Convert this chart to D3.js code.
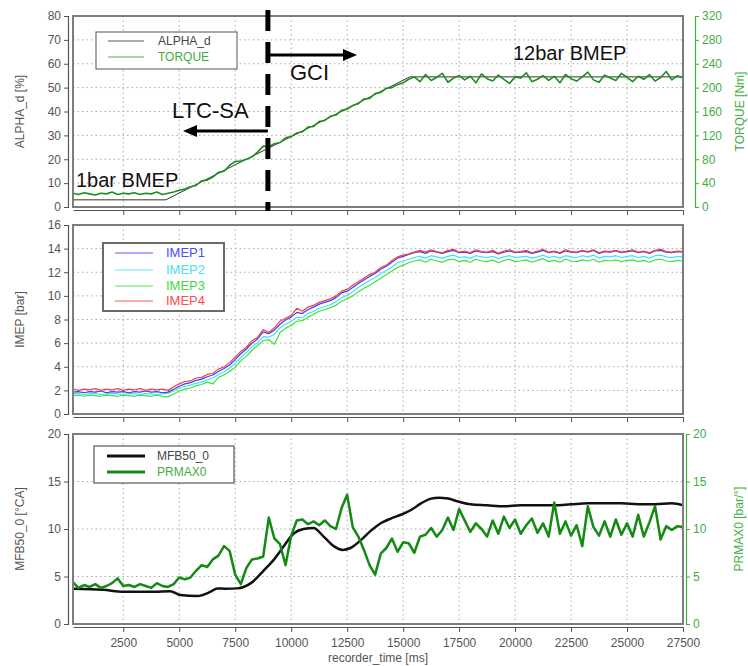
<!DOCTYPE html>
<html>
<head>
<meta charset="utf-8">
<script src="https://cdn.jsdelivr.net/npm/d3@7"></script>
<style>
body { margin: 0; background: #fff; }
svg { display: block; font-family: "Liberation Sans", Arial, sans-serif; }
</style>
</head>
<body>
<div id="chart"></div>
<script>
// ---- data ----
var timeStart = 255, timeEnd = 27500;
var timeTicks = [2500, 5000, 7500, 10000, 12500, 15000, 17500, 20000, 22500, 25000, 27500];
var alphaTicks = [0, 10, 20, 30, 40, 50, 60, 70, 80];
var torqueTicks = [0, 40, 80, 120, 160, 200, 240, 280, 320];
var imepTicks = [0, 2, 4, 6, 8, 10, 12, 14, 16];
var mfbTicks = [0, 5, 10, 15, 20];
var prmaxTicks = [0, 5, 10, 15, 20];

// sample times (ms) for the noisy signals
var sampleTimes = [
  250, 500, 750, 1000, 1250, 1500, 1750, 2000, 2250, 2500,
  2750, 3000, 3250, 3500, 3750, 4000, 4250, 4500, 4750, 5000,
  5250, 5500, 5750, 6000, 6250, 6500, 6750, 7000, 7250, 7500,
  7750, 8000, 8250, 8500, 8750, 9000, 9250, 9500, 9750, 10000,
  10250, 10500, 10750, 11000, 11250, 11500, 11750, 12000, 12250, 12500,
  12750, 13000, 13250, 13500, 13750, 14000, 14250, 14500, 14750, 15000,
  15250, 15500, 15750, 16000, 16250, 16500, 16750, 17000, 17250, 17500,
  17750, 18000, 18250, 18500, 18750, 19000, 19250, 19500, 19750, 20000,
  20250, 20500, 20750, 21000, 21250, 21500, 21750, 22000, 22250, 22500,
  22750, 23000, 23250, 23500, 23750, 24000, 24250, 24500, 24750, 25000,
  25250, 25500, 25750, 26000, 26250, 26500, 26750, 27000, 27250, 27500
];

// ALPHA_d [%] (pedal, piecewise)
var alphaTimes = [255, 4400, 7400, 9000, 12000, 15300, 27500];
var alphaValues = [3, 3, 17.2, 24.7, 38.9, 54.5, 54.5];

// TORQUE [Nm]
var torque = [
  23, 21, 24, 22, 20, 23, 22, 25, 21, 23,
  22, 24, 21, 23, 22, 25, 21, 23, 25, 28,
  30, 34, 36, 44, 45, 50, 58, 60, 70, 76,
  77, 80, 84, 92, 102, 101, 106, 108, 116, 118,
  124, 126, 134, 135, 143, 145, 152, 154, 162, 164,
  170, 173, 181, 182, 190, 192, 199, 200, 205, 208,
  214, 218, 210, 222, 212, 217, 224, 209, 216, 220,
  213, 219, 208, 223, 215, 211, 221, 214, 207, 218,
  216, 225, 210, 214, 220, 212, 219, 208, 222, 215,
  211, 218, 226, 213, 209, 221, 216, 212, 224, 217,
  210, 219, 214, 222, 211, 217, 227, 213, 220, 216
];

// IMEP [bar], cylinders 1..4
var imep1 = [
  1.85, 1.9, 1.8, 1.9, 1.85, 1.95, 1.8, 1.9, 1.85, 1.9,
  1.8, 1.9, 1.85, 1.95, 1.85, 1.9, 1.8, 1.85, 2.1, 2.35,
  2.55, 2.65, 2.85, 2.95, 3.15, 3.3, 3.6, 3.85, 4.15, 4.6,
  5.1, 5.5, 6.0, 6.35, 6.95, 6.8, 7.1, 7.6, 7.95, 8.2,
  8.6, 8.5, 8.85, 9.05, 9.3, 9.45, 9.6, 9.85, 10.25, 10.4,
  10.7, 11.05, 11.35, 11.65, 11.9, 12.25, 12.5, 12.85, 13.2, 13.35,
  13.5, 13.65, 13.75, 13.6, 13.8, 13.7, 13.6, 13.75, 13.85, 13.65,
  13.7, 13.6, 13.8, 13.7, 13.65, 13.75, 13.55, 13.7, 13.8, 13.65,
  13.7, 13.75, 13.6, 13.7, 13.85, 13.65, 13.75, 13.6, 13.8, 13.7,
  13.65, 13.8, 13.7, 13.85, 13.6, 13.75, 13.7, 13.8, 13.65, 13.75,
  13.8, 13.65, 13.75, 13.6, 13.8, 13.85, 13.7, 13.65, 13.75, 13.7
];
var imep2 = [
  1.7, 1.75, 1.65, 1.7, 1.75, 1.65, 1.7, 1.75, 1.7, 1.65,
  1.75, 1.7, 1.65, 1.75, 1.7, 1.65, 1.7, 1.75, 1.95, 2.2,
  2.35, 2.45, 2.6, 2.7, 2.9, 3.05, 3.35, 3.55, 3.9, 4.3,
  4.8, 5.2, 5.7, 6.05, 6.55, 6.5, 6.75, 7.3, 7.6, 7.85,
  8.2, 8.15, 8.5, 8.7, 8.95, 9.1, 9.25, 9.5, 9.85, 10.05,
  10.35, 10.7, 11.0, 11.3, 11.55, 11.9, 12.15, 12.45, 12.8, 12.95,
  13.1, 13.25, 13.35, 13.2, 13.4, 13.3, 13.2, 13.35, 13.45, 13.25,
  13.3, 13.2, 13.4, 13.3, 13.25, 13.35, 13.15, 13.3, 13.4, 13.25,
  13.3, 13.35, 13.2, 13.3, 13.45, 13.25, 13.35, 13.2, 13.4, 13.3,
  13.25, 13.4, 13.3, 13.45, 13.2, 13.35, 13.3, 13.4, 13.25, 13.35,
  13.4, 13.25, 13.35, 13.2, 13.4, 13.45, 13.3, 13.25, 13.35, 13.3
];
var imep3 = [
  1.55, 1.6, 1.5, 1.6, 1.55, 1.5, 1.6, 1.55, 1.5, 1.6,
  1.55, 1.5, 1.6, 1.55, 1.5, 1.6, 1.5, 1.45, 1.7, 1.95,
  2.1, 2.2, 2.4, 2.5, 2.7, 2.55, 3.1, 3.3, 3.6, 3.95,
  4.5, 4.9, 5.4, 5.8, 6.2, 6.3, 5.9, 6.9, 7.25, 7.5,
  7.85, 7.9, 8.2, 8.45, 8.7, 8.85, 9.0, 9.2, 9.55, 9.75,
  10.0, 10.35, 10.65, 10.9, 11.2, 11.5, 11.8, 12.1, 12.4, 12.6,
  12.8, 12.95, 13.05, 12.85, 13.1, 12.95, 12.85, 13.05, 13.1, 12.9,
  13.0, 12.85, 13.1, 12.95, 12.9, 13.05, 12.8, 13.0, 13.1, 12.9,
  12.95, 13.05, 12.85, 13.0, 13.15, 12.9, 13.0, 12.85, 13.1, 12.95,
  12.9, 13.05, 12.95, 13.1, 12.85, 13.0, 12.95, 13.05, 12.9, 13.0,
  13.05, 12.9, 13.0, 12.85, 13.05, 13.1, 12.95, 12.9, 13.0, 12.95
];
var imep4 = [
  2.1, 2.0, 2.1, 2.05, 2.15, 2.0, 2.1, 2.05, 2.15, 2.0,
  2.1, 2.05, 2.15, 2.0, 2.1, 2.05, 2.1, 2.0, 2.3, 2.55,
  2.75, 2.8, 3.05, 3.1, 3.35, 3.45, 3.8, 4.0, 4.35, 4.8,
  5.3, 5.65, 6.2, 6.5, 7.15, 6.9, 7.3, 7.85, 8.1, 8.35,
  8.95, 8.7, 9.05, 9.2, 9.45, 9.6, 9.75, 10.0, 10.4, 10.55,
  10.9, 11.2, 11.5, 11.8, 12.0, 12.4, 12.6, 13.0, 13.3, 13.45,
  13.55, 13.7, 13.85, 13.7, 13.9, 13.75, 13.65, 13.85, 13.95, 13.7,
  13.8, 13.65, 13.9, 13.75, 13.7, 13.85, 13.6, 13.8, 13.9, 13.7,
  13.75, 13.85, 13.65, 13.8, 13.95, 13.7, 13.8, 13.65, 13.9, 13.75,
  13.7, 13.85, 13.75, 13.9, 13.65, 13.8, 13.75, 13.85, 13.7, 13.8,
  13.9, 13.7, 13.8, 13.65, 13.85, 13.95, 13.75, 13.7, 13.8, 13.75
];

// MFB50_0 [deg CA] (smooth)
var mfbTimes = [255, 1600, 2500, 3900, 4600, 5050, 5800, 6400, 6700, 7100,
  7600, 8200, 8800, 9200, 9700, 10100, 10550, 11000, 11450, 11900,
  12300, 12650, 13100, 13550, 14000, 14450, 14900, 15350, 15800, 16250,
  16600, 17000, 17450, 18000, 18750, 19500, 20250, 21000, 21750, 22500,
  23250, 24000, 24750, 25500, 26250, 27000, 27500];
var mfbValues = [3.7, 3.6, 3.4, 3.4, 3.45, 3.05, 2.95, 3.4, 3.75, 3.7,
  3.75, 4.3, 5.7, 6.7, 8.3, 9.5, 10.0, 10.1, 9.2, 8.2,
  7.8, 8.0, 8.8, 9.8, 10.6, 11.1, 11.5, 12.0, 12.7, 13.2,
  13.3, 13.2, 12.9, 12.6, 12.5, 12.4, 12.5, 12.5, 12.5, 12.6,
  12.7, 12.7, 12.7, 12.6, 12.6, 12.7, 12.5];

// PRMAX0 [bar/deg]
var prmax = [
  4.4, 3.8, 4.1, 3.9, 4.2, 3.8, 4.0, 4.3, 4.8, 4.0,
  4.1, 3.9, 4.2, 4.0, 3.8, 4.3, 4.0, 3.9, 4.2, 4.9,
  4.7, 4.9, 5.6, 6.2, 6.0, 6.8, 7.2, 8.2, 7.7, 5.2,
  4.2, 5.9, 6.8, 6.9, 7.1, 11.2, 9.0, 8.4, 6.2, 9.3,
  10.9, 11.0, 10.5, 10.8, 10.4, 10.9, 10.3, 10.0, 12.2, 13.6,
  10.2, 9.2, 7.8, 6.2, 5.2, 7.4, 8.0, 9.0, 7.6, 8.6,
  8.5, 7.5, 9.2, 9.4, 10.1, 9.2, 9.9, 11.2, 9.9, 12.1,
  10.9, 9.7, 10.6, 10.0, 9.2, 10.9, 9.5, 11.3, 10.1, 11.0,
  9.5, 10.4, 11.1, 9.6, 10.6, 9.2, 12.8, 9.5, 10.8, 9.3,
  10.4, 8.2, 12.4, 10.2, 9.3, 10.8, 9.2, 11.0, 9.4, 10.6,
  9.2, 11.5, 9.2, 10.7, 12.4, 8.9, 10.3, 9.9, 10.3, 10.2
];

var modeSwitchMs = 8960; // LTC-SA -> GCI

// ---- layout ----
var W = 748, H = 666;
var plotLeft = 73, plotRight = 683;
var axisGrey = "#555";
var rightGreen = "#3fae3f";

var svg = d3.select("#chart").append("svg")
  .attr("width", W)
  .attr("height", H);

var x = d3.scaleLinear().domain([timeStart, timeEnd]).range([plotLeft, plotRight]);

function styleAxis(g, color) {
  g.select(".domain").attr("stroke", color).attr("stroke-width", 1.2);
  g.selectAll(".tick line").attr("stroke", color);
  g.selectAll(".tick text").attr("fill", color).attr("font-size", "12px")
    .attr("font-family", "Liberation Sans, Arial, sans-serif");
}

function makePanel(cfg) {
  var g = svg.append("g");
  var y = d3.scaleLinear().domain(cfg.yDomain).range([cfg.bottom, cfg.top]);

  // grid
  g.selectAll(".vgrid").data(timeTicks.slice(0, -1)).enter().append("line")
    .attr("x1", function(d) { return x(d); }).attr("x2", function(d) { return x(d); })
    .attr("y1", cfg.top).attr("y2", cfg.bottom)
    .attr("stroke", "#aaa").attr("stroke-width", 1).attr("stroke-dasharray", "1.5,3");
  g.selectAll(".hgrid").data(cfg.yTicks.slice(1, -1)).enter().append("line")
    .attr("x1", plotLeft).attr("x2", plotRight)
    .attr("y1", function(d) { return y(d); }).attr("y2", function(d) { return y(d); })
    .attr("stroke", "#aaa").attr("stroke-width", 1).attr("stroke-dasharray", "1.5,3");

  // clip
  svg.append("clipPath").attr("id", "clip-" + cfg.id)
    .append("rect").attr("x", plotLeft).attr("y", cfg.top)
    .attr("width", plotRight - plotLeft).attr("height", cfg.bottom - cfg.top);
  var plot = g.append("g").attr("clip-path", "url(#clip-" + cfg.id + ")");

  // left axis
  var gy = g.append("g").attr("transform", "translate(68,0)")
    .call(d3.axisLeft(y).tickValues(cfg.yTicks).tickSize(4).tickSizeOuter(4).tickPadding(3));
  styleAxis(gy, axisGrey);

  // bottom axis
  var gx = g.append("g").attr("transform", "translate(0," + (cfg.bottom + 3) + ")")
    .call(d3.axisBottom(x).tickValues(timeTicks).tickSize(5).tickSizeOuter(0).tickPadding(6)
      .tickFormat(cfg.xLabels ? d3.format("d") : function() { return ""; }));
  styleAxis(gx, axisGrey);
  gx.selectAll(".tick text").attr("fill", "#555");

  // left title
  g.append("text")
    .attr("transform", "translate(24," + ((cfg.top + cfg.bottom) / 2) + ") rotate(-90)")
    .attr("text-anchor", "middle").attr("font-size", "12px").attr("fill", axisGrey)
    .text(cfg.yTitle);

  var yR = null;
  if (cfg.right) {
    yR = d3.scaleLinear().domain(cfg.right.domain).range([cfg.bottom, cfg.top]);
    var gr = g.append("g").attr("transform", "translate(" + cfg.right.x + ",0)")
      .call(d3.axisRight(yR).tickValues(cfg.right.ticks).tickSize(4).tickSizeOuter(4).tickPadding(3));
    styleAxis(gr, rightGreen);
    g.append("text")
      .attr("transform", "translate(" + cfg.right.titleX + "," + ((cfg.top + cfg.bottom) / 2) + ") rotate(-90)")
      .attr("text-anchor", "middle").attr("font-size", "12px").attr("fill", rightGreen)
      .text(cfg.right.title);
  }
  return { g: g, plot: plot, y: y, yR: yR, cfg: cfg };
}

function drawSeries(panel, times, values, yScale, color, width, curve) {
  var line = d3.line()
    .x(function(d, i) { return x(times[i]); })
    .y(function(d) { return yScale(d); })
    .curve(curve || d3.curveLinear);
  panel.plot.append("path")
    .datum(values)
    .attr("fill", "none")
    .attr("stroke", color)
    .attr("stroke-width", width)
    .attr("stroke-linejoin", "round")
    .attr("d", line);
}

function drawFrame(panel) {
  panel.g.append("rect")
    .attr("x", plotLeft).attr("y", panel.cfg.top)
    .attr("width", plotRight - plotLeft).attr("height", panel.cfg.bottom - panel.cfg.top)
    .attr("fill", "none").attr("stroke", "#7d7d7d").attr("stroke-width", 2);
}

function drawLegend(panel, box, items) {
  var lg = panel.g.append("g");
  lg.append("rect").attr("x", box.x).attr("y", box.y).attr("width", box.w).attr("height", box.h)
    .attr("fill", "#fff").attr("stroke", box.stroke).attr("stroke-width", box.sw);
  items.forEach(function(it) {
    lg.append("line").attr("x1", box.x + box.lineX1).attr("x2", box.x + box.lineX2)
      .attr("y1", it.y).attr("y2", it.y)
      .attr("stroke", it.color).attr("stroke-width", it.width);
    lg.append("text").attr("x", box.x + box.textX).attr("y", it.y + 4)
      .attr("font-size", box.fontSize).attr("fill", it.textColor).text(it.label);
  });
}

// ---- panel 1: ALPHA_d / TORQUE ----
var p1 = makePanel({
  id: "p1", top: 16, bottom: 207, yDomain: [0, 80], yTicks: alphaTicks, yTitle: "ALPHA_d [%]",
  right: { domain: [0, 320], ticks: torqueTicks, x: 695, title: "TORQUE [Nm]", titleX: 744 }
});
drawSeries(p1, alphaTimes, alphaValues, p1.y, "#333", 1);
drawSeries(p1, sampleTimes, torque, p1.yR, "#1e8c1e", 1.6);
drawFrame(p1);
drawLegend(p1, { x: 96, y: 32, w: 141, h: 37, stroke: "#555", sw: 1, lineX1: 12, lineX2: 48, textX: 62, fontSize: "12px" }, [
  { label: "ALPHA_d", color: "#555", width: 1, textColor: "#444", y: 41 },
  { label: "TORQUE", color: "#4caf50", width: 1.2, textColor: "#3fae3f", y: 57 }
]);

// annotations
var ann = p1.g.append("g");
var xs = x(modeSwitchMs);
ann.append("line").attr("x1", xs).attr("x2", xs).attr("y1", 10).attr("y2", 211)
  .attr("stroke", "#000").attr("stroke-width", 5).attr("stroke-dasharray", "21,11");
function arrow(x1, x2, yy) {
  var dir = x2 > x1 ? 1 : -1;
  ann.append("line").attr("x1", x1).attr("x2", x2 - dir * 10).attr("y1", yy).attr("y2", yy)
    .attr("stroke", "#000").attr("stroke-width", 3);
  ann.append("path")
    .attr("d", "M" + x2 + "," + yy + "L" + (x2 - dir * 14) + "," + (yy - 6) + "L" + (x2 - dir * 14) + "," + (yy + 6) + "Z")
    .attr("fill", "#000");
}
arrow(xs, 357, 55);
arrow(xs, 183, 131);
ann.append("text").attr("x", 290).attr("y", 80).attr("font-size", "22px").attr("fill", "#111").text("GCI");
ann.append("text").attr("x", 172).attr("y", 118).attr("font-size", "22px").attr("fill", "#111").text("LTC-SA");
ann.append("text").attr("x", 76).attr("y", 187).attr("font-size", "20px").attr("fill", "#111").text("1bar BMEP");
ann.append("text").attr("x", 513).attr("y", 60).attr("font-size", "20px").attr("fill", "#111").text("12bar BMEP");

// ---- panel 2: IMEP ----
var p2 = makePanel({ id: "p2", top: 225, bottom: 414, yDomain: [0, 16], yTicks: imepTicks, yTitle: "IMEP [bar]" });
var imepColors = ["#3c3cff", "#3ee4f4", "#3ee23e", "#ff3c3c"];
drawSeries(p2, sampleTimes, imep3, p2.y, imepColors[2], 1.2);
drawSeries(p2, sampleTimes, imep2, p2.y, imepColors[1], 1.2);
drawSeries(p2, sampleTimes, imep1, p2.y, imepColors[0], 1.2);
drawSeries(p2, sampleTimes, imep4, p2.y, imepColors[3], 1.2);
drawFrame(p2);
drawLegend(p2, { x: 103, y: 243, w: 121, h: 68, stroke: "#6b6b6b", sw: 2, lineX1: 12, lineX2: 50, textX: 63, fontSize: "13px" }, [
  { label: "IMEP1", color: "#5a5aff", width: 1.2, textColor: "#4a4aff", y: 253 },
  { label: "IMEP2", color: "#5ee8f6", width: 1.2, textColor: "#48dff0", y: 270 },
  { label: "IMEP3", color: "#5ee65e", width: 1.2, textColor: "#40dd40", y: 286 },
  { label: "IMEP4", color: "#ff5a5a", width: 1.2, textColor: "#ff4a4a", y: 301 }
]);

// ---- panel 3: MFB50_0 / PRMAX0 ----
var p3 = makePanel({
  id: "p3", top: 434, bottom: 624, yDomain: [0, 20], yTicks: mfbTicks, yTitle: "MFB50_0 [\u00B0CA]", xLabels: true,
  right: { domain: [0, 20], ticks: prmaxTicks, x: 686, title: "PRMAX0 [bar/\u00B0]", titleX: 743 }
});
drawSeries(p3, mfbTimes, mfbValues, p3.y, "#111", 2.5, d3.curveMonotoneX);
drawSeries(p3, sampleTimes, prmax, p3.yR, "#138a13", 2.5);
drawFrame(p3);
drawLegend(p3, { x: 94, y: 446, w: 140, h: 37, stroke: "#555", sw: 1.2, lineX1: 13, lineX2: 51, textX: 63, fontSize: "12px" }, [
  { label: "MFB50_0", color: "#111", width: 3, textColor: "#444", y: 456 },
  { label: "PRMAX0", color: "#138a13", width: 3, textColor: "#3fae3f", y: 472 }
]);

svg.append("text").attr("x", 378).attr("y", 662).attr("text-anchor", "middle")
  .attr("font-size", "12px").attr("fill", "#555").text("recorder_time [ms]");
</script>
</body>
</html>
